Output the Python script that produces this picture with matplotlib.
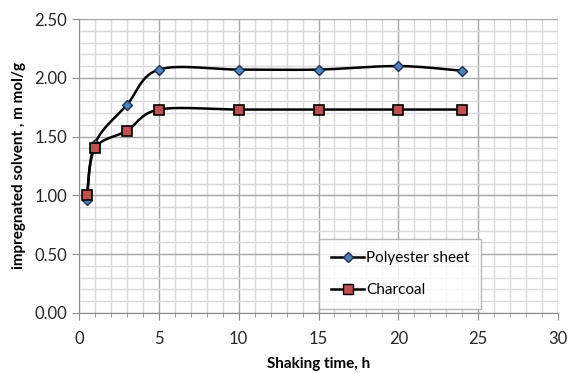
import numpy as np
import matplotlib
matplotlib.use("Agg")
import matplotlib.pyplot as plt
from matplotlib.ticker import MultipleLocator

plt.rcParams["font.family"] = ["Lato", "DejaVu Sans"]

# data
time_h = [0.5, 1, 3, 5, 10, 15, 20, 24]
polyester = [0.96, 1.44, 1.77, 2.07, 2.07, 2.07, 2.10, 2.06]
charcoal = [1.00, 1.40, 1.55, 1.73, 1.73, 1.73, 1.73, 1.73]


def smooth(x, y, n=30):
    """Excel-style smoothed line (Catmull-Rom Bezier through the points)."""
    p = np.column_stack([x, y]).astype(float)
    pts = np.vstack([p[0], p, p[-1]])
    out = []
    t = np.linspace(0, 1, n)[:, None]
    for i in range(1, len(pts) - 2):
        p0, p1, p2, p3 = pts[i - 1], pts[i], pts[i + 1], pts[i + 2]
        c1 = p1 + (p2 - p0) / 6
        c2 = p2 - (p3 - p1) / 6
        seg = ((1 - t) ** 3) * p1 + 3 * ((1 - t) ** 2) * t * c1 \
            + 3 * (1 - t) * t ** 2 * c2 + t ** 3 * p2
        out.append(seg if i == 1 else seg[1:])
    seg = np.vstack(out)
    return seg[:, 0], seg[:, 1]


fig = plt.figure(figsize=(5.7, 3.73), dpi=100)
ax = fig.add_axes([0.1386, 0.161, 0.8404, 0.788])

ax.set_xlim(0, 30)
ax.set_ylim(0, 2.5)
ax.xaxis.set_major_locator(MultipleLocator(5))
ax.xaxis.set_minor_locator(MultipleLocator(1))
ax.yaxis.set_major_locator(MultipleLocator(0.5))
ax.yaxis.set_minor_locator(MultipleLocator(0.1))
ax.grid(which="minor", color="#d9d9d9", linewidth=1.0)
ax.grid(which="major", color="#a6a6a6", linewidth=1.0)
ax.set_axisbelow(True)
ax.yaxis.set_major_formatter(plt.FuncFormatter(lambda v, _: f"{v:.2f}"))

for s in ["top", "right"]:
    ax.spines[s].set_visible(False)
for s in ["left", "bottom"]:
    ax.spines[s].set_color("#8c8c8c")
ax.tick_params(which="major", length=5, color="#8c8c8c", labelsize=12,
               labelcolor="#262626")
ax.tick_params(axis="x", which="minor", length=3, color="#8c8c8c")
ax.tick_params(axis="y", which="minor", length=0)
ax.tick_params(axis="x", pad=8)

xs, ys = smooth(time_h, polyester)
ax.plot(xs, ys, color="black", linewidth=1.8, zorder=3)
ax.plot(time_h, polyester, linestyle="none", marker="D", markersize=5.5,
        markerfacecolor="#4f81bd", markeredgecolor="#1f2f4f",
        markeredgewidth=1.0, zorder=4)
xs, ys = smooth(time_h, charcoal)
ax.plot(xs, ys, color="black", linewidth=1.8, zorder=3)
ax.plot(time_h, charcoal, linestyle="none", marker="s", markersize=7.5,
        markerfacecolor="#c0504d", markeredgecolor="black",
        markeredgewidth=1.2, zorder=5)

# legend proxies
ax.plot([], [], color="black", linewidth=1.8, marker="D", markersize=5.5,
        markerfacecolor="#4f81bd", markeredgecolor="#1f2f4f",
        label="Polyester sheet")
ax.plot([], [], color="black", linewidth=1.8, marker="s", markersize=7.5,
        markerfacecolor="#c0504d", markeredgecolor="black",
        label="Charcoal")
leg = ax.legend(loc="lower left", bbox_to_anchor=(0.5, 0.012),
                frameon=True, fancybox=False, fontsize=11,
                handlelength=2.2, handletextpad=0.1, labelspacing=1.2,
                borderpad=0.8, borderaxespad=0.0)
leg.get_frame().set_edgecolor("#a6a6a6")
leg.get_frame().set_linewidth(1.0)

ax.set_xlabel("Shaking time, h", fontsize=11, fontweight="bold", labelpad=7)
ax.set_ylabel("impregnated solvent , m mol/g", fontsize=11,
              fontweight="bold", labelpad=6)

fig.savefig("out.png", dpi=100)
